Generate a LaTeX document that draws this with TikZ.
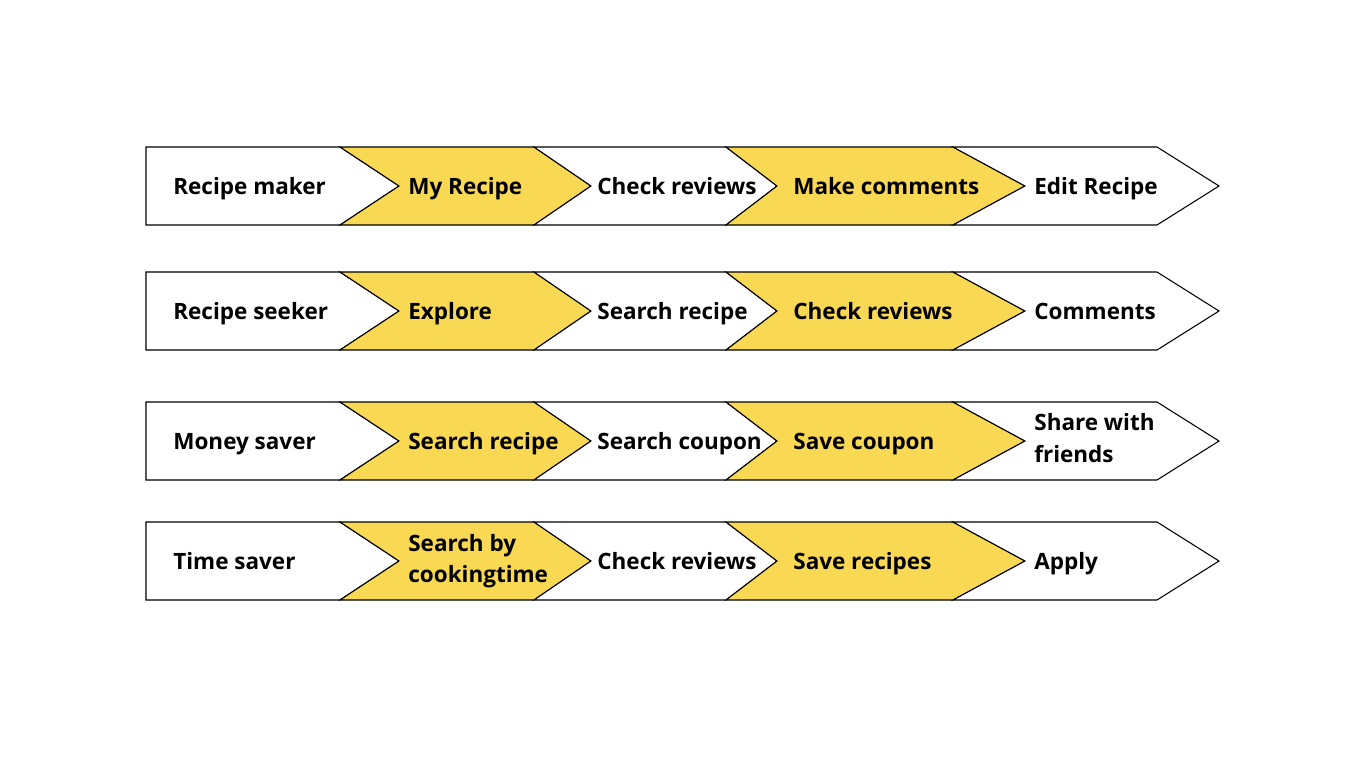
\documentclass[tikz,border=0pt]{standalone}
\usepackage{fontspec}
\setmainfont{Open Sans}
\definecolor{chevyellow}{RGB}{249,217,83}

\tikzstyle{whitestep} = [draw=black, fill=white, line width=0.6pt, line join=miter]
\tikzstyle{yellowstep} = [whitestep, fill=chevyellow]
\tikzstyle{steptext} = [anchor=base west, align=left, inner sep=0pt, font=\bfseries\fontsize{12.8}{17.9}\selectfont]

\begin{document}
\begin{tikzpicture}[x=0.02cm, y=-0.02cm]
        \useasboundingbox (0,0) rectangle (1366,768);

        % Chevron rows (top/bottom of each row)
        \foreach \t/\b in {147/225, 272/350, 402/480, 522/600} {
            \pgfmathsetmacro{\m}{(\t+\b)/2}
            \draw[whitestep] (146,\t) -- (340,\t) -- (399,\m) -- (340,\b) -- (146,\b) -- cycle;
            \draw[yellowstep] (340,\t) -- (534,\t) -- (591,\m) -- (534,\b) -- (340,\b) -- (399,\m) -- cycle;
            \draw[whitestep] (534,\t) -- (726,\t) -- (777,\m) -- (726,\b) -- (534,\b) -- (591,\m) -- cycle;
            \draw[yellowstep] (726,\t) -- (953,\t) -- (1025,\m) -- (953,\b) -- (726,\b) -- (777,\m) -- cycle;
            \draw[whitestep] (953,\t) -- (1157,\t) -- (1219,\m) -- (1157,\b) -- (953,\b) -- (1025,\m) -- cycle;
        }

        % Row 1: recipe maker
        \node (maker) [steptext] at (173,194) {Recipe maker};
        \node (myRecipe) [steptext] at (408,194) {My Recipe};
        \node (checkReviewsA) [steptext] at (597,194) {Check reviews};
        \node (makeComments) [steptext] at (793,194) {Make comments};
        \node (editRecipe) [steptext] at (1034,194) {Edit Recipe};

        % Row 2: recipe seeker
        \node (seeker) [steptext] at (173,319) {Recipe seeker};
        \node (explore) [steptext] at (408,319) {Explore};
        \node (searchRecipeA) [steptext] at (597,319) {Search recipe};
        \node (checkReviewsB) [steptext] at (793,319) {Check reviews};
        \node (comments) [steptext] at (1034,319) {Comments};

        % Row 3: money saver
        \node (moneySaver) [steptext] at (173,449) {Money saver};
        \node (searchRecipeB) [steptext] at (408,449) {Search recipe};
        \node (searchCoupon) [steptext] at (597,449) {Search coupon};
        \node (saveCoupon) [steptext] at (793,449) {Save coupon};
        \node (shareFriends) [steptext, anchor=west] at (1034,438) {Share with\\friends};

        % Row 4: time saver
        \node (timeSaver) [steptext] at (173,569) {Time saver};
        \node (searchTime) [steptext, anchor=west] at (408,561) {Search by\\cookingtime};
        \node (checkReviewsC) [steptext] at (597,569) {Check reviews};
        \node (saveRecipes) [steptext] at (793,569) {Save recipes};
        \node (apply) [steptext] at (1034,569) {Apply};

\end{tikzpicture}
\end{document}
